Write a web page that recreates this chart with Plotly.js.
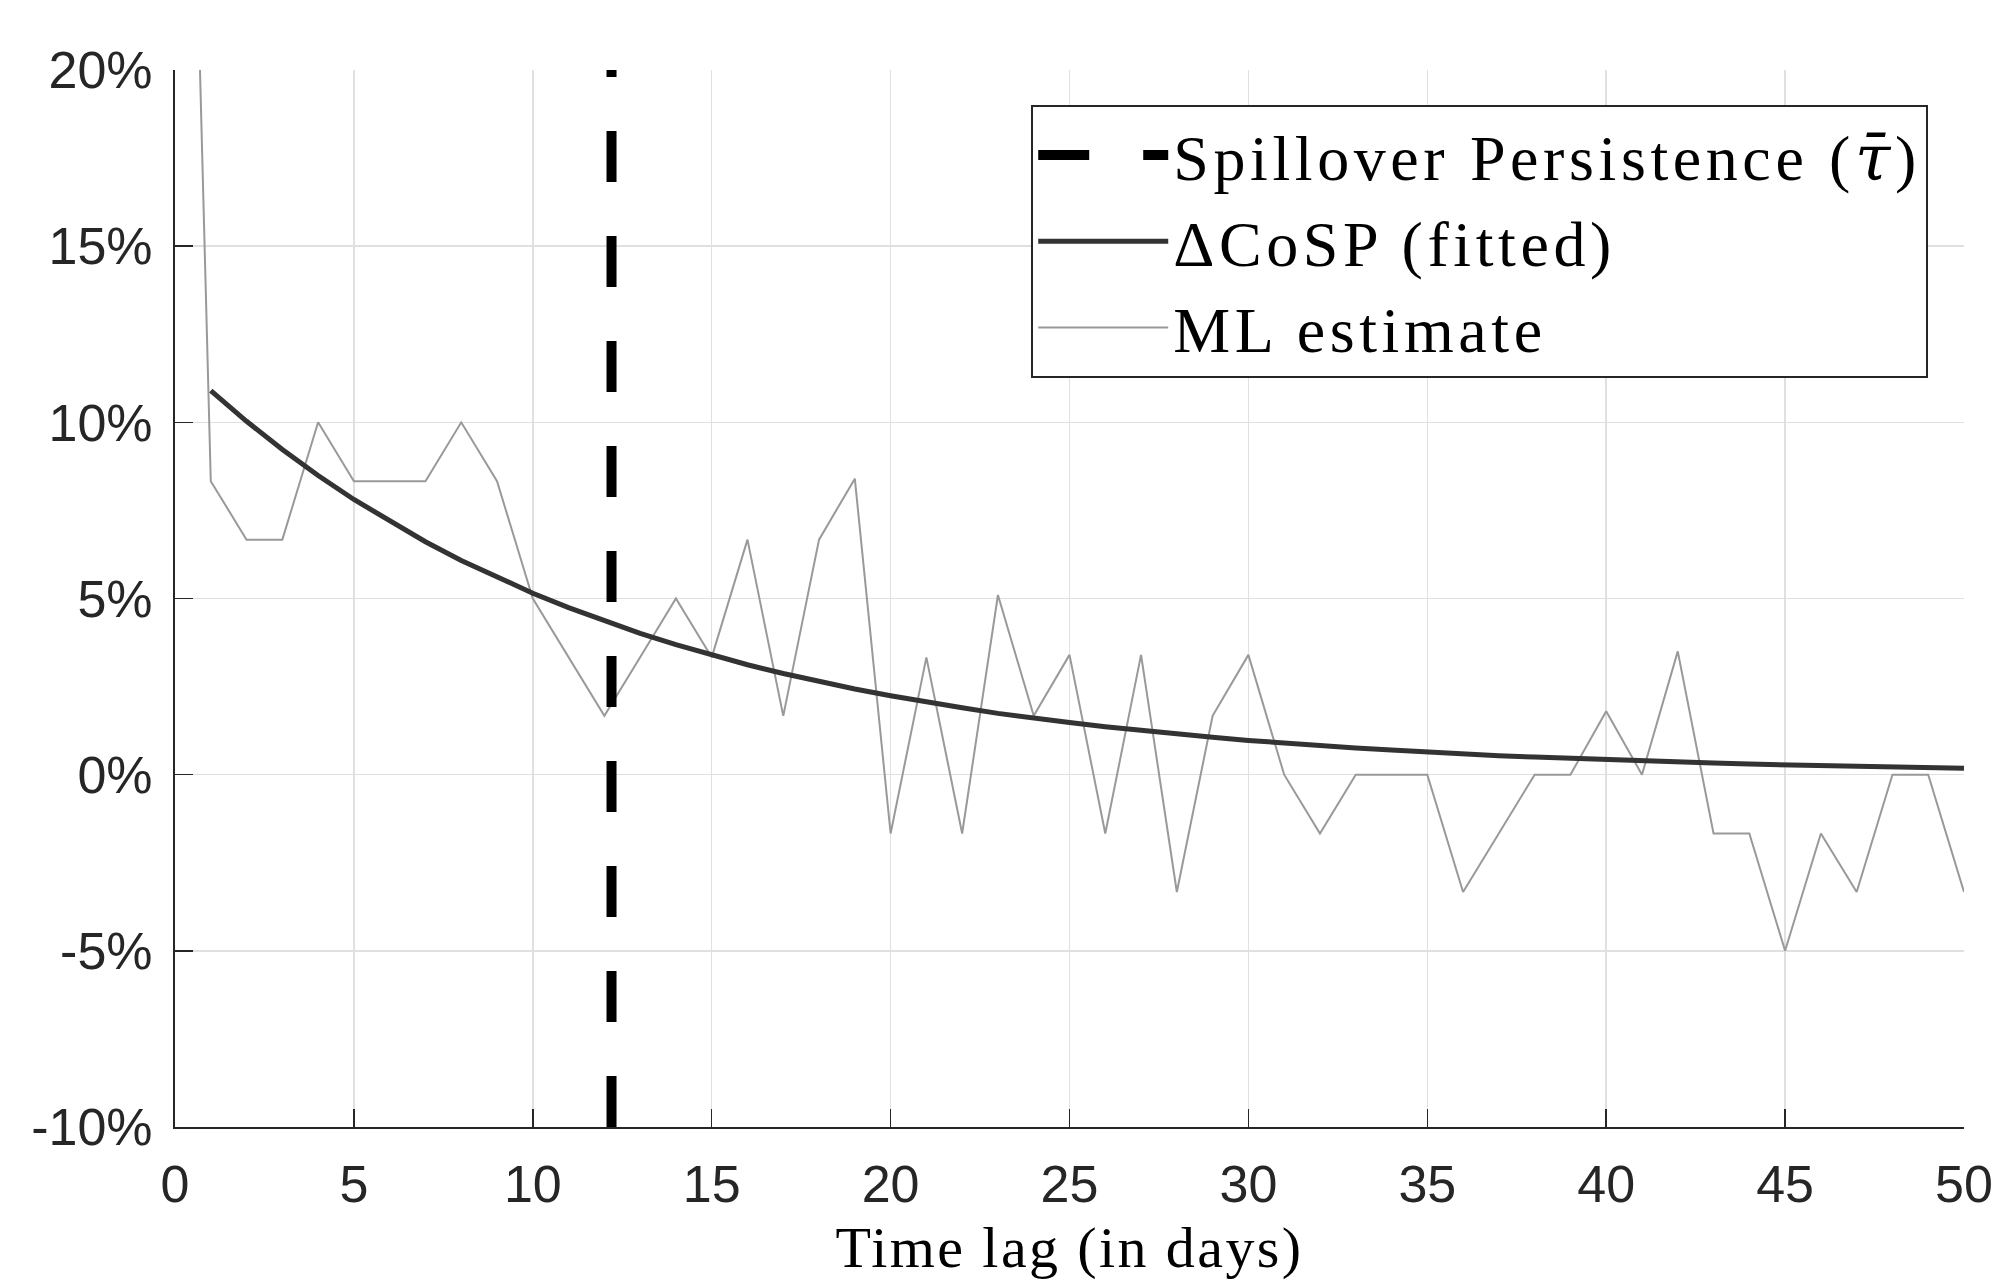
<!DOCTYPE html>
<html>
<head>
<meta charset="utf-8">
<script src="https://cdn.plot.ly/plotly-3.0.1.min.js"></script>
<style>
html,body{margin:0;padding:0;background:#fff;}
#chart{width:1992px;height:1282px;}
text.legendtext{letter-spacing:4.6px;}
text.xtitle{letter-spacing:2.4px;}
</style>
</head>
<body>
<div id="chart"></div>
<script>
// Time lags (days)
const mlLags = [0,1,2,3,4,5,6,7,8,9,10,11,12,13,14,15,16,17,18,19,20,21,22,23,24,25,26,27,28,29,30,31,32,33,34,35,36,37,38,39,40,41,42,43,44,45,46,47,48,49,50];
// ML estimate (%)
const mlEstimate = [47,8.33,6.67,6.67,10,8.33,8.33,8.33,10,8.33,5,3.33,1.67,3.33,5,3.33,6.67,1.67,6.67,8.4,-1.67,3.33,-1.67,5.1,1.67,3.4,-1.67,3.4,-3.33,1.67,3.4,0,-1.67,0,0,0,-3.33,-1.67,0,0,1.8,0,3.5,-1.67,-1.67,-5,-1.67,-3.33,0,0,-3.33];
// Fitted ΔCoSP (%)
const fitLags = [1,2,3,4,5,6,7,8,9,10,11,12,13,14,15,16,17,18,19,20,21,22,23,24,25,26,27,28,29,30,31,32,33,34,35,36,37,38,39,40,41,42,43,44,45,46,47,48,49,50];
const fitted = [10.9,10.03,9.23,8.49,7.81,7.19,6.61,6.08,5.6,5.15,4.74,4.36,4.01,3.69,3.4,3.12,2.87,2.64,2.43,2.24,2.06,1.9,1.74,1.6,1.48,1.36,1.25,1.15,1.06,0.97,0.89,0.82,0.76,0.7,0.64,0.59,0.54,0.5,0.46,0.42,0.39,0.36,0.33,0.3,0.28,0.26,0.24,0.22,0.2,0.18];
// Spillover persistence (days)
const persistence = [12.2, 12.2];
const persistenceY = [-10, 20];
// Tick labels
const yTickVals = [-10,-5,0,5,10,15,20];
const yTickText = ['-10%','-5%','0%','5%','10%','15%','20%'];
const xTickVals = [0,5,10,15,20,25,30,35,40,45,50];

const traces = [
  {x: mlLags, y: mlEstimate, type:'scatter', mode:'lines', name:'ML estimate',
   line:{color:'#999999', width:2}, legendrank:3},
  {x: fitLags, y: fitted, type:'scatter', mode:'lines', name:'\u0394CoSP (fitted)',
   line:{color:'#333333', width:5}, legendrank:2},
  {x: persistence, y: persistenceY, type:'scatter', mode:'lines',
   name:'Spillover Persistence (<span style="font-family:DejaVu Serif;font-style:italic">\u03C4\u0304</span>)',
   line:{color:'#000000', width:10, dash:'51px,54px'}, legendrank:1}
];

const tickFont = {family:'Liberation Sans, Arial, sans-serif', size:52, color:'#262626'};
const layout = {
  width:1992, height:1282,
  margin:{l:175, r:28, t:70, b:155},
  paper_bgcolor:'#ffffff', plot_bgcolor:'#ffffff',
  showlegend:true,
  legend:{x:0.98, y:0.967, xanchor:'right', yanchor:'top',
    bgcolor:'#ffffff', bordercolor:'#262626', borderwidth:2,
    font:{family:'Liberation Serif, Times New Roman, serif', size:64, color:'#000000'},
    itemwidth:130, tracegroupgap:0},
  xaxis:{range:[0,50], tickvals:xTickVals, ticktext:xTickVals.map(String),
    showgrid:true, gridcolor:'#e0e0e0', gridwidth:1.5, zeroline:false,
    showline:true, linecolor:'#262626', linewidth:2,
    ticks:'inside', ticklen:18, tickwidth:1.5, tickcolor:'#262626',
    tickfont:tickFont, ticklabelstandoff:11, ticklabeloverflow:'allow',
    title:{text:'Time lag (in days)', font:{family:'Liberation Serif, Times New Roman, serif', size:58, color:'#000000'}, standoff:14}},
  yaxis:{range:[-10,20], tickvals:yTickVals, ticktext:yTickText,
    showgrid:true, gridcolor:'#e0e0e0', gridwidth:1.5, zeroline:false,
    showline:true, linecolor:'#262626', linewidth:2,
    ticks:'inside', ticklen:18, tickwidth:1.5, tickcolor:'#262626',
    tickfont:tickFont, ticklabelstandoff:10, ticklabeloverflow:'allow'}
};
Plotly.newPlot('chart', traces, layout, {displayModeBar:false, staticPlot:true});
</script>
</body>
</html>
